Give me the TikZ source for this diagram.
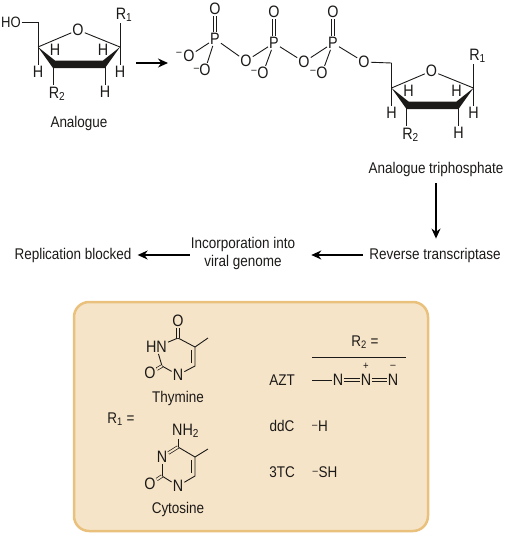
\documentclass[tikz,border=0pt]{standalone}
\usepackage{fontspec}
\setmainfont[FakeStretch=0.87]{Liberation Sans}
\usetikzlibrary{arrows.meta}
\definecolor{boxfill}{HTML}{F6E4C8}
\definecolor{boxedge}{HTML}{E9C07C}
\definecolor{ink}{HTML}{1C1A18}
\tikzset{
  atom/.style={inner sep=1pt, text=ink, font=\fontsize{16.5}{18}\selectfont},
  label/.style={inner sep=0pt, text=ink, align=center, font=\fontsize{15.5}{18}\selectfont},
  charge/.style={inner sep=0pt, text=ink, font=\fontsize{11}{11}\selectfont},
  bond/.style={draw=ink, line width=0.9pt},
  dblbond/.style={draw=ink, line width=0.7pt, double=#1, double distance=2pt},
  dblbond/.default=white,
  flow/.style={draw=black, line width=1.4pt, -{Stealth[length=10pt,width=9pt]}},
  sugar/.pic={
    \coordinate (-c4) at (38,47);
    \coordinate (-c3) at (53,64);
    \coordinate (-c2) at (105,64);
    \coordinate (-c1) at (120,47);
    \coordinate (-c5) at (38,22);
    \coordinate (-r1end) at (120,23);
    \coordinate (-r2end) at (53,85);
    \node[atom] (-o) at (78,30) {O};
    \node[atom] (-r1) at (124,15) {R\textsubscript{1}};
    \node[atom] (-r2) at (57,94) {R\textsubscript{2}};
    \node[atom] (-h4) at (38,72) {H};
    \node[atom] (-h1) at (120,72) {H};
    \node[atom] (-h3) at (55,50) {H};
    \node[atom] (-h2) at (103,50) {H};
    \node[atom] (-h2b) at (105,92) {H};
    \draw[bond] (-c4) -- (-o);
    \draw[bond] (-o) -- (-c1);
    \draw[bond] (-c5) -- (-c4);
    \draw[bond] (-c1) -- (-r1end);
    \draw[bond] (-c4) -- (-h4);
    \draw[bond] (-c1) -- (-h1);
    \draw[bond] (-c3) -- (-r2end);
    \draw[bond] (-c2) -- (-h2b);
    \fill[ink] (-c4) -- (55,60.5) -- (103,60.5) -- (-c1) -- (105,68) -- (53,68) -- cycle;
  }
}
\begin{document}
\begin{tikzpicture}[x=1pt,y=-1pt]
  \useasboundingbox (0,0) rectangle (505,533);

  % first sugar
  \pic (s1) at (0,0) {sugar};
  \node[atom, inner sep=0.5pt, font=\fontsize{15}{17}\selectfont, anchor=east] (ho) at (21.5,22) {HO};
  \draw[bond] (ho) -- (s1-c5);
  \node[label] (analogue) at (79,123) {Analogue};
  \coordinate (a1) at (136,63);
  \coordinate (a2) at (168,63);
  \draw[flow] (a1) -- (a2);

  % phosphate chain
  \node[atom] (p1) at (215,39) {P};
  \node[atom] (p1t) at (215,9) {O};
  \node[atom] (p1a) at (189,56) {O};
  \node[atom] (p1b) at (205,70) {O};
  \node[atom] (o12) at (246,61) {O};
  \node[atom] (p2) at (274,43) {P};
  \node[atom] (p2t) at (274,12) {O};
  \node[atom] (p2b) at (263,73) {O};
  \node[atom] (o23) at (304,62) {O};
  \node[atom] (p3) at (333,43) {P};
  \node[atom] (p3t) at (333,12) {O};
  \node[atom] (p3b) at (322,73) {O};
  \node[atom] (o3) at (364,62) {O};
  \node[charge] (m1) at (179,54) {–};
  \node[charge] (m2) at (196.5,70) {–};
  \node[charge] (m3) at (254,72) {–};
  \node[charge] (m4) at (313,72) {–};
  \draw[dblbond] (p1) -- (p1t);
  \draw[dblbond] (p2) -- (p2t);
  \draw[dblbond] (p3) -- (p3t);
  \draw[bond] (p1) -- (p1a);
  \draw[bond] (p1) -- (p1b);
  \draw[bond] (p1) -- (o12);
  \draw[bond] (o12) -- (p2);
  \draw[bond] (p2) -- (p2b);
  \draw[bond] (p2) -- (o23);
  \draw[bond] (o23) -- (p3);
  \draw[bond] (p3) -- (p3b);
  \draw[bond] (p3) -- (o3);

  % second sugar
  \pic (s2) at (353.5,41) {sugar};
  \draw[bond] (o3) -- (s2-c5);
  \node[label] (triphos) at (436,169) {Analogue triphosphate};

  % flow row
  \node[label] (rt) at (435,255) {Reverse transcriptase};
  \node[label] (inc) at (243,253) {Incorporation into\\viral genome};
  \node[label] (block) at (73,255) {Replication blocked};
  \draw[flow, shorten <=7pt, shorten >=9pt] (triphos.south) -- (triphos.south |- rt.north);
  \draw[flow, shorten <=6pt, shorten >=16pt] (rt.west) -- (rt.west -| inc.east);
  \draw[flow, shorten <=1pt, shorten >=6pt] (inc.west |- block.east) -- (block.east);

  % legend box
  \draw[fill=boxfill, draw=boxedge, line width=2.5pt, rounded corners=15pt] (74,302) rectangle (428,531);

  % thymine
  \coordinate (tc4) at (178,338);
  \coordinate (tc5) at (195,347);
  \coordinate (tc6) at (195,366);
  \coordinate (tc2) at (162,366);
  \coordinate (tme) at (208,338);
  \node[atom] (tn1) at (178,375) {N};
  \node[atom, anchor=east] (tn3) at (168,347) {HN};
  \node[atom] (to4) at (178,321) {O};
  \node[atom] (to2) at (150,373) {O};
  \draw[bond] (tc4) -- (tc5) -- (tc6) -- (tn1);
  \draw[bond] (tn1) -- (tc2);
  \draw[bond] (tc2) -- (tn3);
  \draw[bond] (tn3) -- (tc4);
  \draw[bond] (tc5) -- (tme);
  \draw[bond] (191.5,350) -- (191.5,363);
  \draw[dblbond=boxfill] (tc4) -- (to4);
  \draw[dblbond=boxfill] (tc2) -- (to2);
  \node[label] (thymine) at (178,398) {Thymine};

  % cytosine
  \coordinate (cc4) at (178,447);
  \coordinate (cc5) at (195,457);
  \coordinate (cc6) at (195,476);
  \coordinate (cc2) at (162,476);
  \coordinate (cme) at (208,449);
  \node[atom] (cn1) at (178,486) {N};
  \node[atom] (cn3) at (162,457) {N};
  \node[atom, anchor=west] (cnh) at (171,431) {NH\textsubscript{2}};
  \node[atom] (co2) at (150,484) {O};
  \draw[bond] (cc4) -- (cc5) -- (cc6) -- (cn1);
  \draw[bond] (cn1) -- (cc2);
  \draw[bond] (cc2) -- (cn3);
  \draw[bond] (cc5) -- (cme);
  \draw[bond] (191.5,460) -- (191.5,473);
  \draw[bond] (cc4) -- (cnh.south -| cc4);
  \draw[dblbond=boxfill] (cn3) -- (cc4);
  \draw[dblbond=boxfill] (cc2) -- (co2);
  \node[label] (cytosine) at (178,509) {Cytosine};
  \node[label] (rone) at (121,419) {R\textsubscript{1} =};

  % R2 table
  \node[label] (rtwo) at (365,342) {R\textsubscript{2} =};
  \draw[bond] (312,357) -- (406,357);
  \node[label] (azt) at (282,380) {AZT};
  \node[label] (ddc) at (282,426) {ddC};
  \node[label] (tc) at (282,472) {3TC};
  \node[atom] (n1) at (338,380) {N};
  \node[atom] (n2) at (366,380) {N};
  \node[atom] (n3) at (393,380) {N};
  \node[charge] (nplus) at (366,366) {+};
  \node[charge] (nminus) at (393,367) {–};
  \coordinate (nstart) at (312,380);
  \draw[bond] (nstart) -- (n1);
  \draw[dblbond=boxfill] (n1) -- (n2);
  \draw[dblbond=boxfill] (n2) -- (n3);
  \node[label] (rh) at (320,426) {\raisebox{3pt}{\fontsize{11}{11}\selectfont–}\kern0.5pt H};
  \node[label] (rsh) at (325,472) {\raisebox{3pt}{\fontsize{11}{11}\selectfont–}\kern0.5pt SH};
\end{tikzpicture}
\end{document}
